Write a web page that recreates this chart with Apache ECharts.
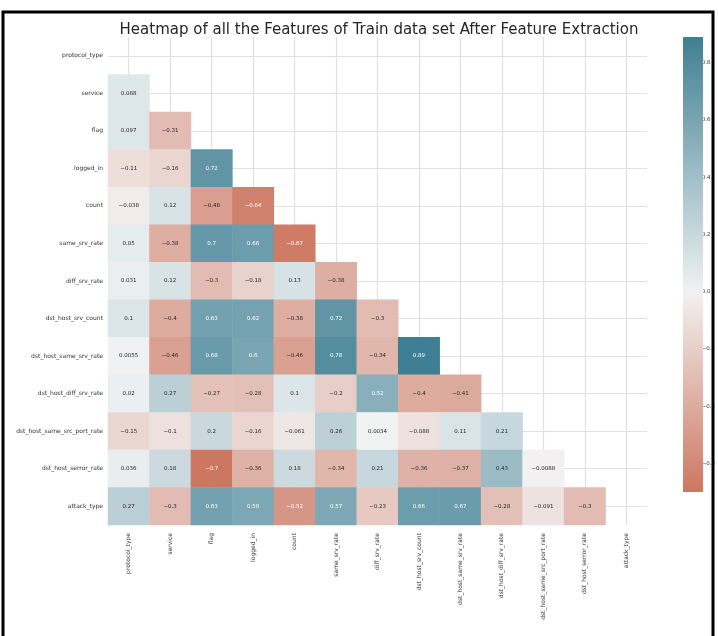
<!DOCTYPE html>
<html>
<head>
<meta charset="utf-8">
<script src="https://cdn.jsdelivr.net/npm/echarts@6/dist/echarts.min.js"></script>
<style>
html, body { margin: 0; padding: 0; background: #fff; }
#heatmap { width: 718px; height: 636px; }
</style>
</head>
<body>
<div id="heatmap"></div>
<script>
var features = ['protocol_type', 'service', 'flag', 'logged_in', 'count', 'same_srv_rate', 'diff_srv_rate',
	'dst_host_srv_count', 'dst_host_same_srv_rate', 'dst_host_diff_srv_rate', 'dst_host_same_src_port_rate',
	'dst_host_serror_rate', 'attack_type'];

// lower triangle of the correlation matrix, one row per feature (upper part is masked)
var corrService = [0.088];
var corrFlag = [0.097, -0.31];
var corrLoggedIn = [-0.11, -0.16, 0.72];
var corrCount = [-0.038, 0.12, -0.48, -0.64];
var corrSameSrv = [0.05, -0.38, 0.7, 0.66, -0.67];
var corrDiffSrv = [0.031, 0.12, -0.3, -0.18, 0.13, -0.38];
var corrHostSrvCount = [0.1, -0.4, 0.63, 0.62, -0.38, 0.72, -0.3];
var corrHostSameSrv = [0.0055, -0.46, 0.68, 0.6, -0.46, 0.78, -0.34, 0.89];
var corrHostDiffSrv = [0.02, 0.27, -0.27, -0.28, 0.1, -0.2, 0.52, -0.4, -0.41];
var corrHostSamePort = [-0.15, -0.1, 0.2, -0.16, -0.061, 0.26, 0.0034, -0.088, 0.11, 0.21];
var corrHostSerror = [0.036, 0.18, -0.7, -0.36, 0.18, -0.34, 0.21, -0.36, -0.37, 0.43, -0.0088];
var corrAttack = [0.27, -0.3, 0.63, 0.58, -0.52, 0.57, -0.23, 0.66, 0.67, -0.28, -0.091, -0.3];

var colorbarTicks = [-0.6, -0.4, -0.2, 0, 0.2, 0.4, 0.6, 0.8];

var rows = [[], corrService, corrFlag, corrLoggedIn, corrCount, corrSameSrv, corrDiffSrv, corrHostSrvCount,
	corrHostSameSrv, corrHostDiffSrv, corrHostSamePort, corrHostSerror, corrAttack];

// --- husl -> rgb, same as seaborn's diverging_palette(20, 220) ---
var M = [
	[3.240969941904521, -1.537383177570093, -0.498610760293],
	[-0.96924363628087, 1.87596750150772, 0.041555057407175],
	[0.055630079696993, -0.20397695888897, 1.056971514242878]
];
var refU = 0.19783000664283, refV = 0.46831999493879, kappa = 903.2962962, eps = 0.0088564516;
function maxChroma(L, H) {
	var hr = H / 180 * Math.PI;
	var sub1 = Math.pow(L + 16, 3) / 1560896;
	var sub2 = sub1 > eps ? sub1 : L / kappa;
	var min = Infinity;
	for (var c = 0; c < 3; c++) {
		var m1 = M[c][0], m2 = M[c][1], m3 = M[c][2];
		for (var t = 0; t < 2; t++) {
			var top1 = (284517 * m1 - 94839 * m3) * sub2;
			var top2 = (838422 * m3 + 769860 * m2 + 731718 * m1) * L * sub2 - 769860 * t * L;
			var bottom = (632260 * m3 - 126452 * m2) * sub2 + 126452 * t;
			var len = (top2 / bottom) / (Math.sin(hr) - (top1 / bottom) * Math.cos(hr));
			if (len >= 0 && len < min) min = len;
		}
	}
	return min;
}
function husl(h, s, l) {
	var C = maxChroma(l, h) / 100 * s;
	var hr = h / 180 * Math.PI;
	var U = Math.cos(hr) * C, V = Math.sin(hr) * C;
	var vu = U / (13 * l) + refU, vv = V / (13 * l) + refV;
	var Y = l <= 8 ? l / kappa : Math.pow((l + 16) / 116, 3);
	var X = 0 - (9 * Y * vu) / ((vu - 4) * vv - vu * vv);
	var Z = (9 * Y - 15 * vv * Y - vv * X) / (3 * vv);
	return M.map(function (m) {
		var c = m[0] * X + m[1] * Y + m[2] * Z;
		c = c <= 0.0031308 ? 12.92 * c : 1.055 * Math.pow(c, 1 / 2.4) - 0.055;
		return Math.min(1, Math.max(0, c));
	});
}
var negColor = husl(20, 75, 50), negGray = husl(20, 11.25, 95);
var posColor = husl(220, 75, 50), posGray = husl(220, 11.25, 95);
var midColor = [0.95, 0.95, 0.95];
function lerp(a, b, f) {
	return [0, 1, 2].map(function (i) { return a[i] + (b[i] - a[i]) * f; });
}
function cmapAt(t) {
	var e = 127 / 256;
	if (t <= e) return lerp(negColor, negGray, t / e);
	if (t <= 0.5) return lerp(negGray, midColor, (t - e) / (0.5 - e));
	if (t <= 1 - e) return lerp(midColor, posGray, (t - 0.5) / (0.5 - e));
	return lerp(posGray, posColor, (t - 1 + e) / e);
}

var vmin = Infinity, vmax = -Infinity;
rows.forEach(function (r) { r.forEach(function (v) { vmin = Math.min(vmin, v); vmax = Math.max(vmax, v); }); });
var vrange = Math.max(vmax, -vmin); // centered on 0
function valueRgb(v) { return cmapAt((v + vrange) / (2 * vrange)); }
function toHex(rgb) {
	return '#' + rgb.map(function (c) { var s = Math.round(c * 255).toString(16); return s.length < 2 ? '0' + s : s; }).join('');
}
function textColor(v) {
	var lin = valueRgb(v).map(function (c) { return c <= 0.03928 ? c / 12.92 : Math.pow((c + 0.055) / 1.055, 2.4); });
	var lum = 0.2126 * lin[0] + 0.7152 * lin[1] + 0.0722 * lin[2];
	return lum > 0.408 ? '#262626' : '#ffffff';
}

var stops = [];
var barStops = [];
for (var i = 0; i <= 100; i++) {
	var c = toHex(valueRgb(vmin + (vmax - vmin) * i / 100));
	stops.push(c);
	barStops.push({ offset: 1 - i / 100, color: c });
}

var cells = [];
rows.forEach(function (r, ri) {
	r.forEach(function (v, ci) {
		cells.push({ value: [ci, ri, v], label: { color: textColor(v) } });
	});
});

var gridLines = [];
features.forEach(function (f, i) {
	gridLines.push({ xAxis: i });
	gridLines.push({ yAxis: i });
});

var chart = echarts.init(document.getElementById('heatmap'), null, { renderer: 'canvas' });
var font = 'DejaVu Sans';
var option = {
	animation: false,
	backgroundColor: '#ffffff',
	title: {
		text: 'Heatmap of all the Features of Train data set After Feature Extraction',
		left: 374,
		top: 18,
		textAlign: 'center',
		textStyle: { fontFamily: font, fontSize: 15, fontWeight: 'normal', color: '#262626' }
	},
	graphic: [{
		// colorbar
		type: 'rect',
		shape: { x: 683, y: 37, width: 20, height: 455 },
		style: { fill: { type: 'linear', x: 0, y: 0, x2: 0, y2: 1, colorStops: barStops } },
		z: 10
	}, {
		type: 'rect',
		shape: { x: 3, y: 12, width: 710, height: 640 },
		style: { fill: 'none', stroke: '#000', lineWidth: 3 },
		z: 100
	}],
	grid: [
		{ left: 108, top: 37, width: 539, height: 488 },
		{ left: 683, top: 37, width: 20, height: 455 }
	],
	xAxis: [{
		type: 'category',
		data: features,
		gridIndex: 0,
		axisLine: { show: false },
		axisTick: { show: false },
		splitLine: { show: false },
		axisLabel: { rotate: 90, interval: 0, fontSize: 6, fontFamily: font, color: '#333', margin: 8 }
	}, {
		type: 'category',
		data: [''],
		gridIndex: 1,
		show: false
	}],
	yAxis: [{
		type: 'category',
		data: features,
		inverse: true,
		gridIndex: 0,
		axisLine: { show: false },
		axisTick: { show: false },
		splitLine: { show: false },
		axisLabel: { interval: 0, fontSize: 6, fontFamily: font, color: '#333', margin: 5 }
	}, {
		type: 'value',
		gridIndex: 1,
		min: vmin,
		max: vmax,
		position: 'right',
		axisLine: { show: false },
		splitLine: { show: false },
		axisTick: { show: true, length: 3, customValues: colorbarTicks, lineStyle: { color: '#333' } },
		axisLabel: {
			customValues: colorbarTicks,
			fontSize: 5.5,
			fontFamily: font,
			color: '#333',
			margin: 2,
			formatter: function (v) { return v.toFixed(1).replace('-', '\u2212'); }
		}
	}],
	visualMap: {
		type: 'continuous',
		show: false,
		seriesIndex: 0,
		dimension: 2,
		min: vmin,
		max: vmax,
		inRange: { color: stops }
	},
	series: [{
		type: 'heatmap',
		xAxisIndex: 0,
		yAxisIndex: 0,
		data: cells,
		z: 2,
		label: {
			show: true,
			fontSize: 5.5,
			fontFamily: font,
			formatter: function (p) { return String(Number(p.value[2].toPrecision(2))).replace('-', '\u2212'); }
		},
		emphasis: { disabled: true },
		markLine: {
			silent: true,
			z: 1,
			symbol: 'none',
			label: { show: false },
			lineStyle: { color: '#e0e0e0', width: 1.2, type: 'solid' },
			data: gridLines
		}
	}, {
		type: 'line',
		xAxisIndex: 1,
		yAxisIndex: 1,
		data: []
	}]
};
chart.setOption(option);
</script>
</body>
</html>
